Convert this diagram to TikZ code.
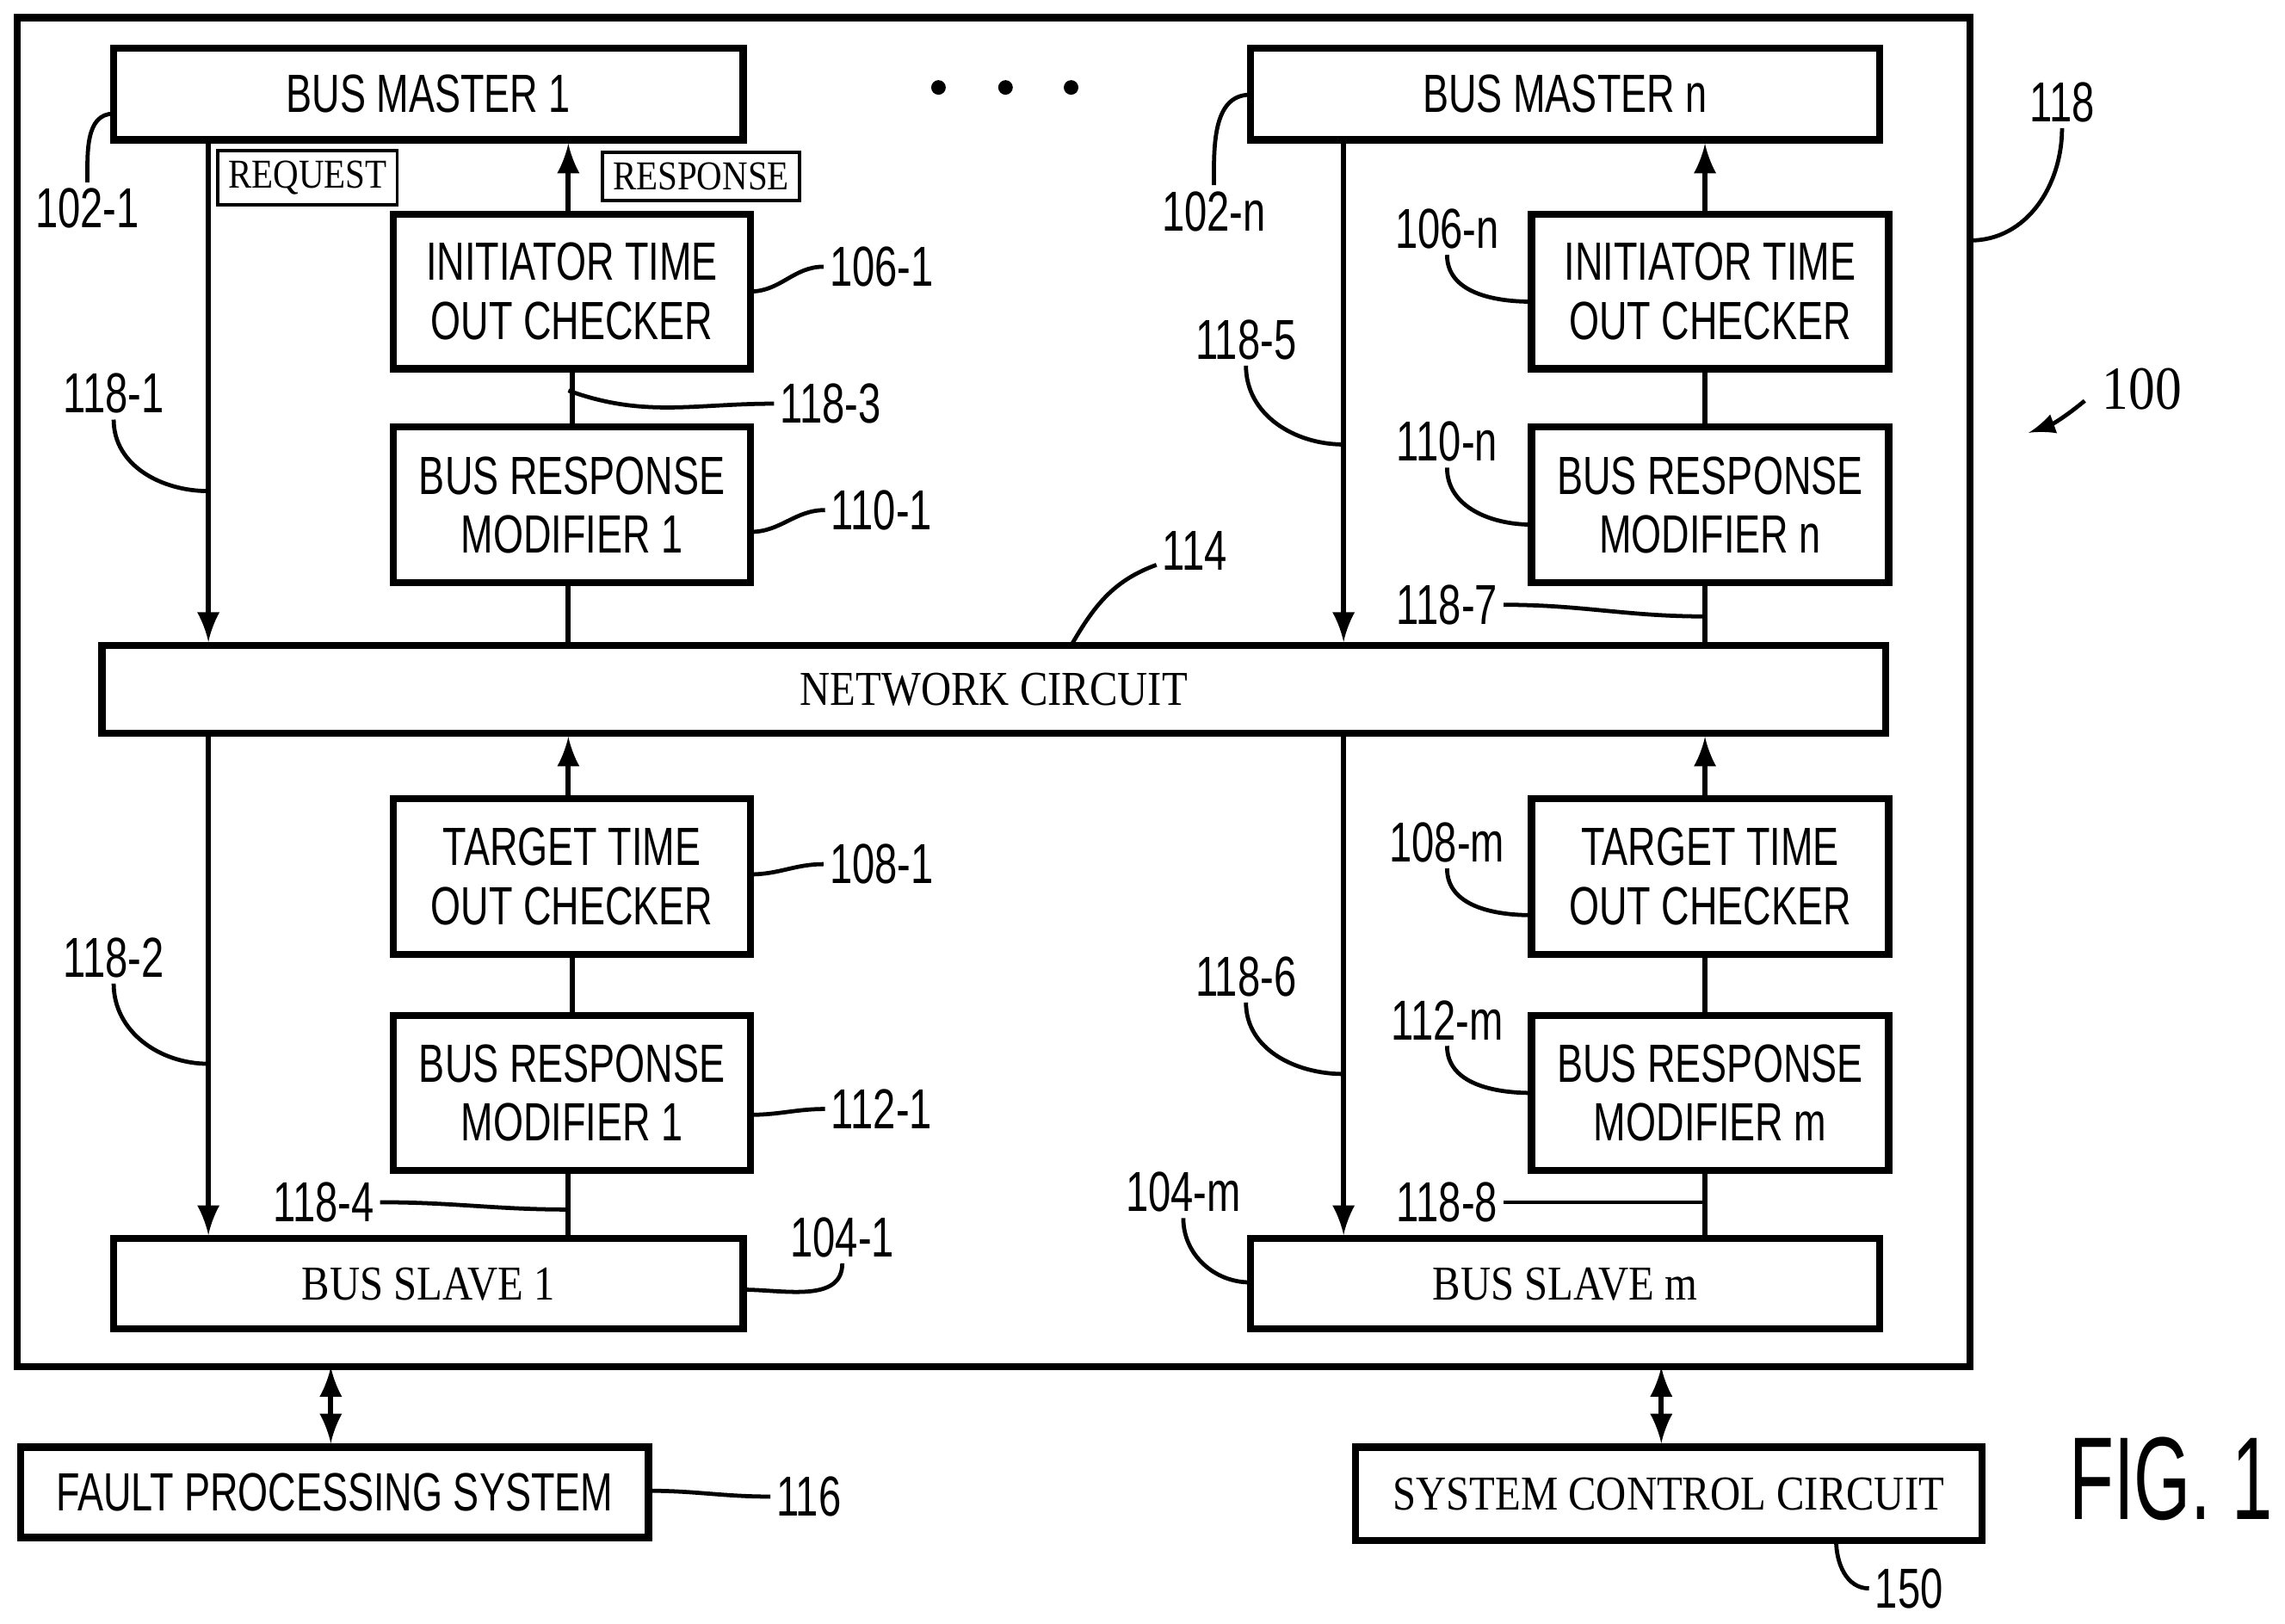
\documentclass[tikz,border=0pt]{standalone}
\usepackage{fontspec}
\setmainfont[FakeStretch=0.86]{Liberation Serif}
\newfontfamily\cond[FakeStretch=0.72]{Liberation Sans}
\newfontfamily\figfont[FakeStretch=0.62]{Liberation Sans}
\usetikzlibrary{calc}
\tikzset{
  box/.style={draw, line width=1.4pt, inner sep=0pt, align=center},
  sn/.style={font=\cond\fontsize{10.5}{11.5}\selectfont},
  sf/.style={font=\fontsize{9.5}{10.5}\selectfont},
  lbl/.style={font=\cond\fontsize{11}{12}\selectfont, inner sep=1pt},
  arr/.style={line width=1pt, -latex},
  ln/.style={line width=1pt},
}
\newcommand\blk[7]{\node[box,#6,minimum width={(#4-#2)*0.01cm},minimum height={(#5-#3)*0.01cm}] (#1) at ({(#2+#4)/2},{(#3+#5)/2}) {#7};}
\begin{document}
\begin{tikzpicture}[x=0.01cm,y=-0.01cm]
\useasboundingbox (0,0) rectangle (1568,1114);
% outer frame
\draw[line width=1.4pt] (12,12) rectangle (1352,938);
% blocks
\blk{bm1}{78}{33}{510}{96}{sn}{BUS MASTER 1}
\blk{bmn}{858}{33}{1290}{96}{sn}{BUS MASTER n}
\blk{itc1}{270}{147}{515}{253}{sn}{INITIATOR TIME\\OUT CHECKER}
\blk{itcn}{1051}{147}{1296}{253}{sn}{INITIATOR TIME\\OUT CHECKER}
\blk{brm1}{270}{293}{515}{400}{sn}{BUS RESPONSE\\MODIFIER 1}
\blk{brmn}{1051}{293}{1296}{400}{sn}{BUS RESPONSE\\MODIFIER n}
\blk{net}{70}{443}{1294}{503}{sf}{NETWORK CIRCUIT}
\blk{ttc1}{270}{548}{515}{655}{sn}{TARGET TIME\\OUT CHECKER}
\blk{ttcm}{1051}{548}{1296}{655}{sn}{TARGET TIME\\OUT CHECKER}
\blk{bsr1}{270}{697}{515}{803}{sn}{BUS RESPONSE\\MODIFIER 1}
\blk{bsrm}{1051}{697}{1296}{803}{sn}{BUS RESPONSE\\MODIFIER m}
\blk{bs1}{78}{850}{510}{912}{sf}{BUS SLAVE 1}
\blk{bsm}{858}{850}{1290}{912}{sf}{BUS SLAVE m}
\blk{fps}{14}{993}{445}{1055}{sn}{FAULT PROCESSING SYSTEM}
\blk{scc}{930}{993}{1360}{1057}{sf}{SYSTEM CONTROL CIRCUIT}
\node[font=\figfont\fontsize{23}{25}\selectfont, inner sep=0pt, anchor=east] (fig) at (1560,1015) {FIG. 1};
\foreach \x in {644,690,735} \fill (\x,60) circle (5);
\node[draw, line width=0.6pt, font=\fontsize{8}{9}\selectfont, inner sep=2pt] (req) at (211,122) {REQUEST};
\node[draw, line width=0.6pt, font=\fontsize{8}{9}\selectfont, inner sep=2pt] (rsp) at (481,121) {RESPONSE};
% columns
\coordinate (cA) at (143,0); \coordinate (cB) at (390,0);
\coordinate (cC) at (922,0); \coordinate (cD) at (1170,0);
\coordinate (cE) at (227,0); \coordinate (cF) at (1140,0);
\draw[arr] (bm1.south -| cA) -- (net.north -| cA);
\draw[arr] (itc1.north -| cB) -- (bm1.south -| cB);
\draw[ln] (itc1) -- (brm1);
\draw[ln] (brm1.south -| cB) -- (net.north -| cB);
\draw[arr] (bmn.south -| cC) -- (net.north -| cC);
\draw[arr] (itcn.north -| cD) -- (bmn.south -| cD);
\draw[ln] (itcn.south -| cD) -- (brmn.north -| cD);
\draw[ln] (brmn.south -| cD) -- (net.north -| cD);
\draw[arr] (net.south -| cA) -- (bs1.north -| cA);
\draw[arr] (ttc1.north -| cB) -- (net.south -| cB);
\draw[ln] (ttc1) -- (bsr1);
\draw[ln] (bsr1.south -| cB) -- (bs1.north -| cB);
\draw[arr] (net.south -| cC) -- (bsm.north -| cC);
\draw[arr] (ttcm.north -| cD) -- (net.south -| cD);
\draw[ln] (ttcm.south -| cD) -- (bsrm.north -| cD);
\draw[ln] (bsrm.south -| cD) -- (bsm.north -| cD);
\draw[ln, latex-latex] (cE |- 0,938) -- (fps.north -| cE);
\draw[ln, latex-latex] (cF |- 0,938) -- (scc.north -| cF);
% reference labels
\foreach \n/\px/\py/\t/\fx/\fy/\o/\i in {
  a/60/143/102-1/78/78/180/90,
  b/605/183/106-1/515/200/0/180,
  c/570/277/118-3/390/268/-20/180,
  d/605/350/110-1/515/365/0/180,
  e/78/270/118-1/143/337/180/-90,
  f/820/378/114/735/443/60/200,
  g/833/145/102-n/858/65/180/90,
  h/993/157/106-n/1051/207/180/-90,
  i/855/233/118-5/922/305/180/-90,
  j/993/303/110-n/1051/360/180/-90,
  k/993/415/118-7/1170/423/180/0,
  l/1415/70/118/1352/165/0/-90,
  m/605/593/108-1/515/600/0/180,
  o/78/657/118-2/143/730/180/-90,
  p/605/761/112-1/515/765/0/180,
  q/222/825/118-4/390/830/180/0,
  r/578/849/104-1/510/885/0/-90,
  s/993/578/108-m/1051/628/180/-90,
  t/855/670/118-6/922/737/180/-90,
  u/993/700/112-m/1051/750/180/-90,
  v/812/818/104-m/858/880/180/-90,
  w/993/825/118-8/1170/825/180/0,
  x/555/1027/116/445/1023/0/180,
  y/1310/1090/150/1260/1057/-90/180}{
  \node[lbl] (r\n) at (\px,\py) {\t};
  \coordinate (f\n) at (\fx,\fy);
  \draw[line width=0.8pt] (f\n) to[out=\o,in=\i] (r\n);
}
\node[lbl, font=\fontsize{12}{13}\selectfont] (r100) at (1470,267) {100};
\coordinate (t100) at (1392,297);
\draw[line width=0.8pt, -latex] (r100.west) ++(-8,8) to[bend left=10] (t100);
\end{tikzpicture}
\end{document}
